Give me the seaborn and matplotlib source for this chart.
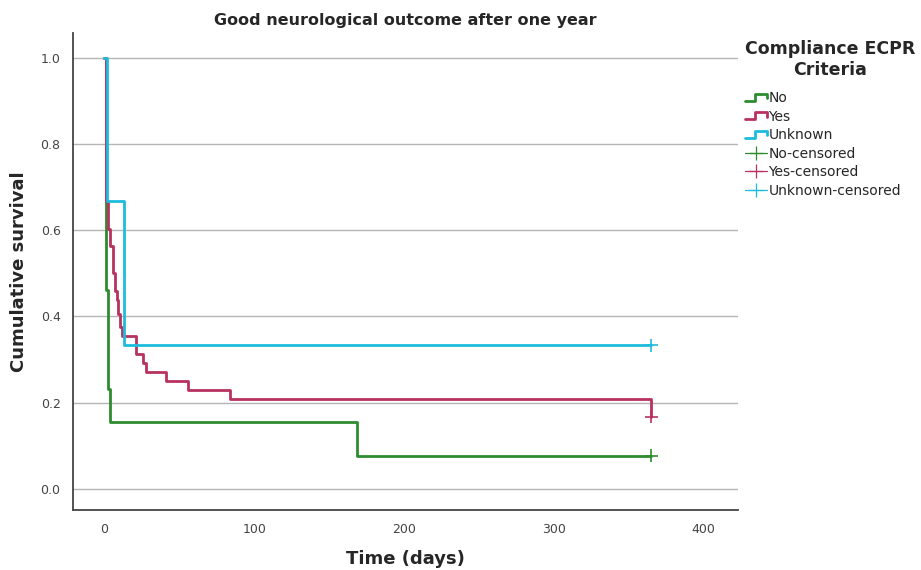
import matplotlib
matplotlib.use("Agg")
import matplotlib.pyplot as plt
from matplotlib.lines import Line2D
from matplotlib.legend_handler import HandlerLine2D
import seaborn as sns
import pandas as pd

# Kaplan-Meier steps (time in days, cumulative survival)
no_time = [0, 1.3, 2.5, 3.5, 168.5, 365]
no_surv = [1.0, 0.4615, 0.2308, 0.1538, 0.0769, 0.0769]

yes_time = [0, 1.1, 2.2, 3.8, 5.5, 7, 8.2, 9.3, 10.4, 11.5, 21, 26, 28, 41, 55.5, 84, 365]
yes_surv = [1.0, 0.667, 0.604, 0.5625, 0.5, 0.458, 0.4375, 0.406, 0.375, 0.354,
            0.3125, 0.2917, 0.271, 0.25, 0.229, 0.208, 0.167]

unk_time = [0, 1.8, 13.3, 365]
unk_surv = [1.0, 0.667, 0.333, 0.333]

# censored observations
cens_group = ["No", "Yes", "Unknown"]
cens_time = [365, 365, 365]
cens_surv = [0.0769, 0.167, 0.333]

groups = ["No", "Yes", "Unknown"]
colors = {"No": "#2e8b2e", "Yes": "#b8325f", "Unknown": "#1ebcdc"}

df = pd.concat([
    pd.DataFrame({"time": no_time, "surv": no_surv, "group": "No"}),
    pd.DataFrame({"time": yes_time, "surv": yes_surv, "group": "Yes"}),
    pd.DataFrame({"time": unk_time, "surv": unk_surv, "group": "Unknown"}),
], ignore_index=True)
cens = pd.DataFrame({"time": cens_time, "surv": cens_surv, "group": cens_group})

sns.set_style("white")
plt.rcParams["font.family"] = ["DejaVu Sans"]

fig = plt.figure(figsize=(9.21, 5.70), dpi=100)
ax = fig.add_axes([0.0793, 0.105, 0.7220, 0.837])

sns.lineplot(data=df, x="time", y="surv", hue="group", hue_order=groups,
             palette=colors, estimator=None, sort=False, drawstyle="steps-post",
             linewidth=2, legend=False, ax=ax)
sns.scatterplot(data=cens, x="time", y="surv", hue="group", hue_order=groups,
                palette=colors, marker="+", s=90, linewidth=1.2, legend=False,
                ax=ax, zorder=5)

ax.set_xlim(-21, 423)
ax.set_ylim(-0.05, 1.058)
ax.set_xticks([0, 100, 200, 300, 400])
ax.set_yticks([0.0, 0.2, 0.4, 0.6, 0.8, 1.0])
ax.set_yticklabels(["0.0", "0.2", "0.4", "0.6", "0.8", "1.0"])
ax.yaxis.grid(True, color="#b5b5b5", linewidth=1)
ax.set_axisbelow(True)
ax.tick_params(length=0, labelsize=9, colors="#444444", pad=9)
for side in ["top", "right"]:
    ax.spines[side].set_visible(False)
for side in ["left", "bottom"]:
    ax.spines[side].set_color("#444444")
    ax.spines[side].set_linewidth(1.3)

ax.set_xlabel("Time (days)", fontsize=13, fontweight="bold", labelpad=10)
ax.set_ylabel("Cumulative survival", fontsize=13, fontweight="bold", labelpad=9)
ax.set_title("Good neurological outcome after one year", fontsize=11.5,
             fontweight="bold", pad=6)


# step-shaped legend glyph like the SPSS legend
class HandlerStep(HandlerLine2D):
    def create_artists(self, legend, orig_handle, xdescent, ydescent,
                       width, height, fontsize, trans):
        x0 = -xdescent
        lo = -ydescent + height * 0.15
        hi = -ydescent + height * 0.85
        line = Line2D([x0, x0 + 0.45 * width, x0 + 0.45 * width, x0 + width, x0 + width],
                      [lo, lo, hi, hi, lo + 0.35 * (hi - lo)])
        self.update_prop(line, orig_handle, legend)
        line.set_transform(trans)
        return [line]


handles = []
labels = []
step_handles = []
for g in groups:
    h = Line2D([], [], color=colors[g], linewidth=2)
    handles.append(h)
    step_handles.append(h)
    labels.append(g)
for g in groups:
    handles.append(Line2D([], [], color=colors[g], linewidth=0.9, marker="+",
                          markersize=10, markeredgewidth=0.9))
    labels.append(g + "-censored")

leg = ax.legend(handles, labels, title="Compliance ECPR\nCriteria",
                loc="upper left", bbox_to_anchor=(1.0, 1.0), frameon=False,
                fontsize=10, handlelength=1.6, handletextpad=0.1,
                labelspacing=0.32, borderaxespad=0.1,
                handler_map={h: HandlerStep() for h in step_handles})
leg.get_title().set_fontweight("bold")
leg.get_title().set_fontsize(12.5)
leg.get_title().set_multialignment("center")
leg._legend_box.align = "left"
leg._legend_box.sep = 9

fig.savefig("out.png", dpi=100)
